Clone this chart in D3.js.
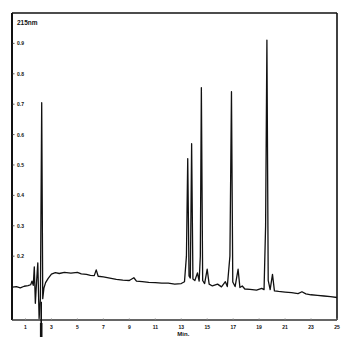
<!DOCTYPE html>
<html>
<head>
<meta charset="utf-8">
<script src="https://cdn.jsdelivr.net/npm/d3@7"></script>
<style>
  body { margin: 0; background: #fff; }
  svg text { font-family: "Liberation Sans", Arial, sans-serif; fill: #111; }
</style>
</head>
<body>
<div id="graph"></div>
<script>
// chromatogram trace (minutes, absorbance)
var retentionTime = [0, 0.3, 0.6, 0.9, 1.2, 1.4, 1.5, 1.6, 1.68, 1.76, 1.86, 1.95, 2.05, 2.15, 2.25, 2.33, 2.42, 2.55, 2.75,
    3.0, 3.3, 3.6, 4.0, 4.5, 5.0, 5.3, 5.7, 6.0, 6.3, 6.45, 6.6, 7.0, 7.5, 8.0, 8.5, 9.0, 9.35, 9.55, 10.0, 10.5,
    11.0, 11.5, 12.0, 12.5, 13.0, 13.25, 13.4, 13.5, 13.6, 13.7, 13.8, 13.9, 14.05, 14.25, 14.38, 14.47, 14.55, 14.65, 14.8,
    15.0, 15.15, 15.4, 15.8, 16.1, 16.4, 16.55, 16.75, 16.87, 16.97, 17.15, 17.38, 17.52, 17.7, 17.9, 18.3, 18.8,
    19.2, 19.38, 19.5, 19.6, 19.7, 19.85, 20.03, 20.18, 20.5, 21.0, 21.5, 22.0, 22.3, 22.6, 23.0, 23.5, 24.0, 24.5, 25.0]
var absorbance = [0.098, 0.100, 0.096, 0.101, 0.103, 0.106, 0.118, 0.104, 0.165, 0.045, 0.120, 0.178, -0.005, 0.060, 0.705, 0.060, 0.095, 0.113, 0.127,
    0.141, 0.146, 0.143, 0.147, 0.144, 0.147, 0.142, 0.140, 0.137, 0.136, 0.155, 0.134, 0.132, 0.128, 0.124, 0.121, 0.120, 0.129, 0.118, 0.116, 0.114,
    0.113, 0.111, 0.111, 0.108, 0.110, 0.116, 0.200, 0.521, 0.135, 0.128, 0.570, 0.125, 0.120, 0.145, 0.118, 0.200, 0.754, 0.120, 0.110,
    0.157, 0.108, 0.102, 0.108, 0.099, 0.116, 0.100, 0.200, 0.741, 0.115, 0.100, 0.157, 0.097, 0.102, 0.092, 0.091, 0.088,
    0.094, 0.090, 0.300, 0.911, 0.120, 0.090, 0.140, 0.086, 0.084, 0.082, 0.080, 0.077, 0.083, 0.076, 0.073, 0.071, 0.069, 0.067, 0.064]

var xTicks = [1, 3, 5, 7, 9, 11, 13, 15, 17, 19, 21, 23, 25]
var yTicks = [0.2, 0.3, 0.4, 0.5, 0.6, 0.7, 0.8, 0.9]
var injectionTime = 2.25

var margin = {top: 13, right: 13, bottom: 17, left: 12},
    width = 350 - margin.left - margin.right,
    height = 337 - margin.top - margin.bottom

var svg = d3.select("#graph").append("svg")
            .attr("width", 350)
            .attr("height", 337)
            .append("g")
            .attr("transform", "translate(" + margin.left + "," + margin.top + ")")

var x = d3.scaleLinear().domain([0, 25]).range([0.5, width]),
    y = d3.scaleLinear().domain([-0.01, 1.0]).range([height, 0])

// frame
svg.append("line").attr("x1", 0).attr("x2", 0).attr("y1", 0).attr("y2", height)
   .attr("stroke", "#111").attr("stroke-width", 2)
svg.append("line").attr("x1", 0).attr("x2", width).attr("y1", 0).attr("y2", 0)
   .attr("stroke", "#111").attr("stroke-width", 1.6)
svg.append("line").attr("x1", width).attr("x2", width).attr("y1", 0).attr("y2", height)
   .attr("stroke", "#111").attr("stroke-width", 1.6)
svg.append("line").attr("x1", 0).attr("x2", width).attr("y1", height).attr("y2", height)
   .attr("stroke", "#333").attr("stroke-width", 1.3)

// x axis ticks + labels
svg.selectAll(".xt").data(xTicks).enter().append("line")
   .attr("x1", function(d) { return x(d) }).attr("x2", function(d) { return x(d) })
   .attr("y1", height - 2).attr("y2", height)
   .attr("stroke", "#999").attr("stroke-width", 0.6)
svg.selectAll(".xl").data(xTicks).enter().append("text")
   .attr("x", function(d) { return x(d) }).attr("y", height + 9)
   .attr("text-anchor", "middle")
   .style("font-size", "5px").style("font-weight", "bold")
   .text(function(d) { return d })
svg.append("text").attr("x", x(12.7)).attr("y", height + 16)
   .style("font-size", "6px").style("font-weight", "bold")
   .text("Min.")

// y ticks + labels
svg.selectAll(".yt").data(yTicks).enter().append("line")
   .attr("x1", 0).attr("x2", 2.5)
   .attr("y1", function(d) { return y(d) }).attr("y2", function(d) { return y(d) })
   .attr("stroke", "#333").attr("stroke-width", 0.8)
svg.selectAll(".yl").data(yTicks).enter().append("text")
   .attr("x", 5).attr("y", function(d) { return y(d) + 2 })
   .style("font-size", "5px").style("font-weight", "bold")
   .text(function(d) { return d.toFixed(1) })

svg.append("text").attr("x", 5).attr("y", 12)
   .style("font-size", "6.5px").style("font-weight", "bold")
   .text("215nm")

// injection marker: continues the solvent peak through the axis
svg.append("line")
   .attr("x1", x(injectionTime) - 0.5).attr("x2", x(injectionTime) - 0.5)
   .attr("y1", y(0.05)).attr("y2", height + margin.bottom)
   .attr("stroke", "#111").attr("stroke-width", 1.6)
svg.append("line")
   .attr("x1", x(injectionTime) - 0.5).attr("x2", x(injectionTime) - 0.5)
   .attr("y1", height + 3).attr("y2", height + margin.bottom)
   .attr("stroke", "#111").attr("stroke-width", 2.6)

// trace
var trace = retentionTime.map(function(t, i) { return [t, absorbance[i]] })
var line = d3.line()
    .x(function(d) { return x(d[0]) })
    .y(function(d) { return y(d[1]) })

svg.append("path").datum(trace)
   .attr("d", line)
   .attr("fill", "none")
   .attr("stroke", "#111")
   .attr("stroke-width", 1.3)
   .attr("stroke-linejoin", "round")
</script>
</body>
</html>
